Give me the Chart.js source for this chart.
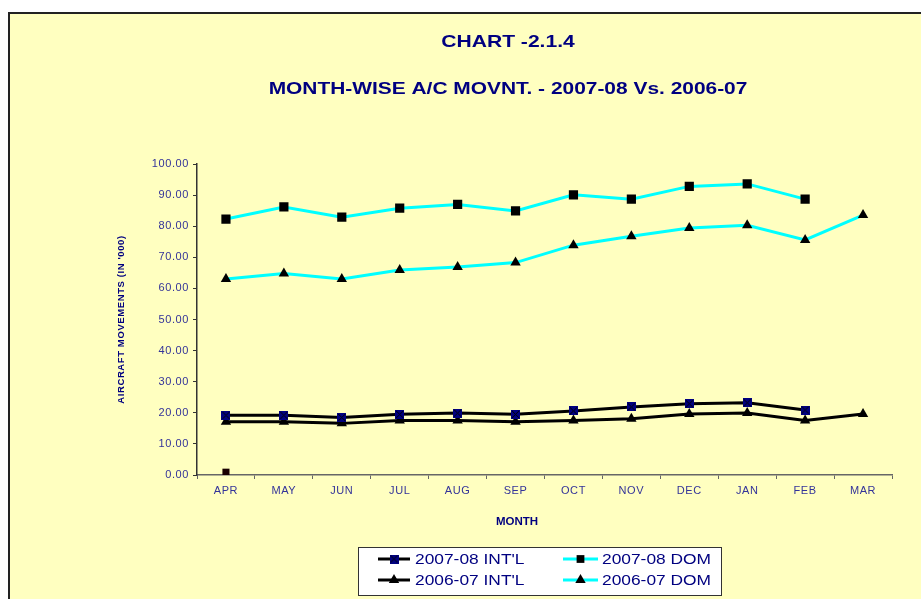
<!DOCTYPE html>
<html><head><meta charset="utf-8">
<script src="https://cdn.jsdelivr.net/npm/chart.js@4/dist/chart.umd.min.js"></script>
<style>html,body{margin:0;padding:0;background:#fff;overflow:hidden}canvas{display:block}</style>
</head><body>
<canvas id="c" width="921" height="599"></canvas>
<script>
// ---- data ----
const months = ['APR','MAY','JUN','JUL','AUG','SEP','OCT','NOV','DEC','JAN','FEB','MAR'];
const intl0708 = [19.2,19.2,18.5,19.5,19.9,19.5,20.6,21.9,22.9,23.2,20.9,null];
const dom0708  = [82.3,86.2,82.9,85.8,87.0,84.9,90.1,88.7,92.8,93.6,88.7,null];
const intl0607 = [17.1,17.1,16.6,17.5,17.5,17.1,17.5,18.1,19.6,19.9,17.5,19.6];
const dom0607  = [63.0,64.8,63.0,65.9,66.9,68.3,73.9,76.8,79.4,80.3,75.6,83.6];
const strayPoint = [0.9,null,null,null,null,null,null,null,null,null,null,null];
const yTicks = [0,10,20,30,40,50,60,70,80,90,100];
const seriesNames = ["2007-08 INT'L","2007-08 DOM","2006-07 INT'L","2006-07 DOM"];
const chartTitle = 'CHART -2.1.4';
const chartSubtitle = 'MONTH-WISE A/C MOVNT. - 2007-08 Vs. 2006-07';
const xTitle = 'MONTH';
const yTitle = "AIRCRAFT MOVEMENTS (IN '000)";

const FONT = '"Liberation Sans", Arial, sans-serif';
const NAVY = '#000080';
const TICKC = '#333399';
const CYAN = '#00FFFF';

// custom marker: navy square with black X
function makeXSquare(){
  const c = document.createElement('canvas'); c.width = 9; c.height = 9;
  const g = c.getContext('2d');
  g.fillStyle = NAVY; g.fillRect(0,0,9,9);
  g.strokeStyle = '#000'; g.lineWidth = 1;
  g.beginPath(); g.moveTo(1,1); g.lineTo(8,8); g.moveTo(8,1); g.lineTo(1,8); g.stroke();
  return c;
}
const xSquare = makeXSquare();

const styles = [
  {line:'#000', pointStyle:xSquare, radius:5, bg:NAVY},
  {line:CYAN, pointStyle:'rect', radius:6.5, bg:'#000'},
  {line:'#000', pointStyle:'triangle', radius:6, bg:'#000'},
  {line:CYAN, pointStyle:'triangle', radius:6, bg:'#000'}
];
const seriesData = [intl0708, dom0708, intl0607, dom0607];

const datasets = seriesData.map((d,i)=>({
  label: seriesNames[i], data: d,
  borderColor: styles[i].line, borderWidth: 3,
  pointStyle: styles[i].pointStyle, pointRadius: styles[i].radius,
  pointBackgroundColor: styles[i].bg, pointBorderColor: styles[i].bg, pointBorderWidth: 0,
  tension: 0, fill: false
}));
datasets.push({label:'', data: strayPoint, showLine:false, pointStyle:'rect', pointRadius:5,
  pointBackgroundColor:'#1a0000', pointBorderColor:'#1a0000', pointBorderWidth:0});

function wideText(ctx, text, x, y, sx){
  ctx.save();
  ctx.translate(x, y); ctx.scale(sx, 1);
  ctx.fillText(text, 0, 0);
  ctx.restore();
}

const framePlugin = {
  id:'frame',
  beforeDraw(chart){
    const ctx = chart.ctx;
    ctx.save();
    ctx.fillStyle = '#fff'; ctx.fillRect(0,0,921,599);
    ctx.fillStyle = '#FFFFC0'; ctx.fillRect(9,14,912,585);
    ctx.fillStyle = '#222'; ctx.fillRect(8,12,913,2); ctx.fillRect(8,12,2,587);
    ctx.restore();
    ctx.letterSpacing = '0.6px';
  },
  afterDraw(chart){
    const ctx = chart.ctx;
    ctx.save();
    ctx.letterSpacing = '0px';
    // titles
    ctx.fillStyle = NAVY; ctx.textAlign = 'center'; ctx.textBaseline = 'middle';
    ctx.font = 'bold 17px ' + FONT;
    wideText(ctx, chartTitle, 508, 42, 1.24);
    wideText(ctx, chartSubtitle, 508, 89, 1.23);
    ctx.font = 'bold 10px ' + FONT;
    wideText(ctx, xTitle, 517, 522, 1.15);
    // legend
    ctx.fillStyle = '#fff'; ctx.fillRect(358,547,363,48);
    ctx.strokeStyle = '#333'; ctx.lineWidth = 1; ctx.strokeRect(358.5,547.5,363,48);
    const pos = [[378,410,559,415],[563,598,559,602],[378,410,580,415],[563,598,580,602]];
    pos.forEach((p,i)=>{
      const st = styles[i];
      ctx.strokeStyle = st.line; ctx.lineWidth = 3;
      ctx.beginPath(); ctx.moveTo(p[0],p[2]); ctx.lineTo(p[1],p[2]); ctx.stroke();
      ctx.fillStyle = st.bg; ctx.strokeStyle = st.bg;
      Chart.helpers.drawPoint(ctx,{pointStyle:st.pointStyle, radius: st.pointStyle==='rect'?5.5:st.radius, rotation:0, borderWidth:0}, (p[0]+p[1])/2, p[2]);
      ctx.fillStyle = NAVY; ctx.textAlign='left'; ctx.textBaseline='middle';
      ctx.font = '14px ' + FONT;
      wideText(ctx, seriesNames[i], p[3], p[2]+1, 1.24);
    });
    ctx.restore();
  }
};

new Chart(document.getElementById('c'), {
  type:'line',
  data:{labels: months, datasets},
  plugins:[framePlugin],
  options:{
    responsive:false, animation:false,
    layout:{padding:{left:116, right:29, top:164, bottom:94}},
    plugins:{legend:{display:false}, title:{display:false}, tooltip:{enabled:false}},
    scales:{
      x:{
        offset:true,
        grid:{display:true, drawOnChartArea:false, drawTicks:true, tickLength:4, color:'#666', offset:true},
        border:{display:true, color:'#666', width:1.5},
        ticks:{color:TICKC, font:{family:FONT, size:11}, padding:5, maxRotation:0, autoSkip:false},
        afterFit(s){ s.height = 30; }
      },
      y:{
        min:0, max:100,
        afterBuildTicks(s){ s.ticks = yTicks.map(v=>({value:v})); },
        grid:{display:true, drawOnChartArea:false, drawTicks:true, tickLength:4, color:'#333'},
        border:{display:true, color:'#333', width:1.5},
        ticks:{color:TICKC, font:{family:FONT, size:11}, padding:4, callback:v=>Number(v).toFixed(2)},
        title:{display:true, text:yTitle, color:NAVY, font:{family:FONT, size:9.5, weight:'bold'}, padding:0},
        afterFit(s){ s.width = 81; }
      }
    }
  }
});
</script>
</body></html>
